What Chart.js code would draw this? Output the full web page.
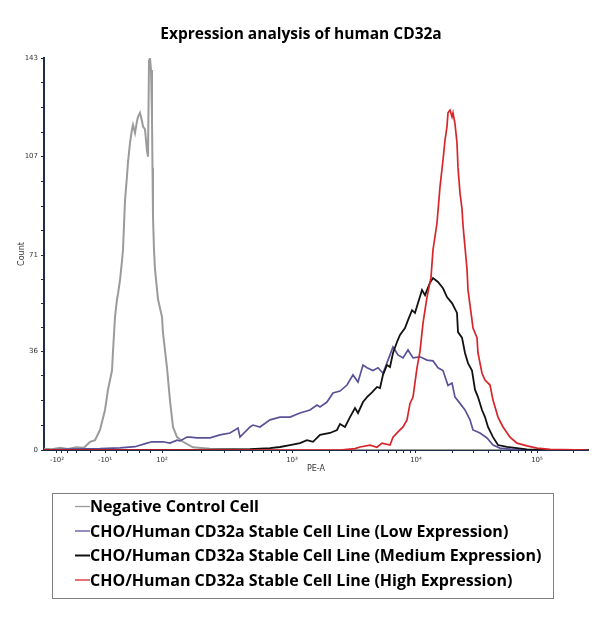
<!DOCTYPE html>
<html><head><meta charset="utf-8">
<script src="https://cdn.jsdelivr.net/npm/chart.js@4.4.0/dist/chart.umd.min.js"></script>
<style>html,body{margin:0;padding:0;background:#fff;}canvas{display:block;}</style>
</head><body>
<canvas id="c" width="600" height="622"></canvas>
<script>
const chartTitle = 'Expression analysis of human CD32a';
const xAxisTitle = 'PE-A';
const yAxisTitle = 'Count';
const seriesNames = [
  'Negative Control Cell',
  'CHO/Human CD32a Stable Cell Line (Low Expression)',
  'CHO/Human CD32a Stable Cell Line (Medium Expression)',
  'CHO/Human CD32a Stable Cell Line (High Expression)'
];
// x = position on the biexponential PE-A axis (decade units), y = count
const negX = [1.056,1.12,1.184,1.248,1.312,1.376,1.424,1.464,1.504,1.544,1.568,1.6,1.608,1.624,1.64,1.648,1.664,1.68,1.688,1.704,1.72,1.728,1.744,1.76,1.768,1.784,1.8,1.808,1.824,1.84,1.848,1.864,1.88,1.888,1.896,1.904,1.912,1.92,1.924,1.928,1.936,1.944,1.968,2.0,2.008,2.04,2.064,2.088,2.12,2.168,2.248,2.384,2.624,2.944,3.5,5.408];
const negY = [0.5,0.3,0.8,0.4,1.0,0.8,3,3.6,7.3,14.6,22,29,36,48.5,55,57,62,69,73,91,100,105,112,117,118.6,115.6,120,121.5,123,120,118,117,109,107,142,143,138.6,121,103,85,73,66,55,48.5,42.7,30,18,8.4,4.7,3,1,0.5,0.2,0,0,0];
const lowX = [1.056,1.264,1.504,1.664,1.784,1.88,1.92,2.008,2.064,2.12,2.144,2.2,2.224,2.28,2.384,2.464,2.544,2.608,2.624,2.704,2.728,2.784,2.864,2.944,3.024,3.104,3.184,3.24,3.264,3.32,3.368,3.424,3.48,3.528,3.568,3.608,3.64,3.688,3.728,3.768,3.808,3.848,3.888,3.928,3.968,4.008,4.064,4.12,4.168,4.208,4.248,4.288,4.32,4.344,4.384,4.424,4.464,4.488,4.544,4.6,4.648,4.704,4.784,4.944,5.408];
const lowY = [0,0.3,0.5,0.8,1.2,2.5,3,3,2.5,3.6,3.3,4.7,4.7,4.4,4.4,5.5,6.2,8,4.7,8.4,9.1,8.4,11,12,12,13.5,14.6,16.4,15.7,17.5,20.8,21.5,23.7,27.4,24.8,31,30,29,30,28,32.8,37.6,34.7,33.6,36.5,33.6,34,32.8,32.5,30,29,23.5,24.4,19.3,17,14.6,11,7.3,6.2,4.4,1.8,0.7,0.3,0,0];
const medX = [1.056,2.304,2.704,2.864,2.944,3.024,3.104,3.16,3.208,3.264,3.344,3.4,3.424,3.464,3.504,3.544,3.568,3.608,3.64,3.68,3.72,3.744,3.768,3.8,3.824,3.848,3.88,3.904,3.944,3.968,4.0,4.024,4.048,4.08,4.104,4.144,4.168,4.208,4.248,4.28,4.32,4.36,4.368,4.4,4.424,4.448,4.48,4.504,4.528,4.56,4.584,4.608,4.648,4.688,4.76,4.84,4.92,5.024,5.408];
const medY = [0,0,0.3,0.7,1.1,1.8,2.5,3.6,3,5.5,6.2,7.3,9.5,8.4,12,15.3,13.5,17.5,19.3,21,23,22.6,27.4,31,30.3,35.4,39.4,42,44.5,47.4,51,50,53.6,58.4,56.5,61,62.7,61.3,59,55.8,53.6,50,43,41,35.4,31.7,29,22,19.3,14.6,12,8.4,4.7,1.8,1.1,0.7,0.2,0,0];
const highX = [1.056,3.424,3.544,3.584,3.664,3.72,3.76,3.824,3.848,3.888,3.928,3.96,3.984,4.008,4.04,4.064,4.088,4.12,4.152,4.168,4.2,4.224,4.248,4.264,4.28,4.288,4.304,4.32,4.328,4.344,4.36,4.368,4.384,4.4,4.408,4.424,4.44,4.448,4.48,4.488,4.52,4.528,4.56,4.584,4.624,4.648,4.688,4.728,4.784,4.84,4.92,5.0,5.104,5.408];
const highY = [0,0,0.5,1.1,1.8,1,2.5,1.8,4.7,6.6,8.4,11,17,19.3,30,36,46.3,55.8,63,73,82.8,96,105.8,113,118,123,124,121.5,123,119,112,103,93.7,88,82,74,66,58.4,47.4,44.5,41,35.4,28,25.5,23.7,18.2,12,8.4,4.7,2.5,1.5,0.7,0.2,0];
// axis ticks
const xTickPos = [1.16,1.544,2.0,3.04,4.032,5.0];
const xTickLabels = ['-10²','-10¹','10²','10³','10⁴','10⁵'];
const yTickVals = [0,36,71,107,143];

const colors = ['#9b9b9b','#5a5298','#111111','#d7262b'];
const widths = [2,1.7,1.8,1.7];
const pairs = [[negX,negY],[lowX,lowY],[medX,medY],[highX,highY]];

const datasets = pairs.map((p,i)=>({
  label: seriesNames[i],
  data: p[0].map((x,j)=>({x:x,y:p[1][j]})),
  borderColor: colors[i],
  backgroundColor: colors[i],
  borderWidth: widths[i],
  pointRadius: 0,
  tension: 0,
  fill: false,
  order: 4 - i
}));

function xAllTicks(){
  const out = xTickPos.slice();
  for (let d = 2; d < xTickPos.length - 1; d++) {
    const a = xTickPos[d], b = xTickPos[d+1];
    for (let k = 2; k <= 9; k++) out.push(a + Math.log10(k)*(b-a));
  }
  const a5 = xTickPos[5], w = xTickPos[5]-xTickPos[4];
  out.push(a5 + Math.log10(2)*w);
  const n2 = xTickPos[0], n1 = xTickPos[1];
  for (let k = 2; k <= 9; k += 2) out.push(n1 - Math.log10(k)*(n1-n2));
  for (let k = 1; k <= 4; k++) out.push(n1 + k*(xTickPos[2]-n1)/5);
  return out.sort((p,q)=>p-q);
}
function yAllTicks(){
  const out = [];
  for (let i = 0; i < yTickVals.length - 1; i++) {
    const a = yTickVals[i], b = yTickVals[i+1];
    for (let k = 0; k < 4; k++) out.push(a + (b-a)*k/4);
  }
  out.push(yTickVals[yTickVals.length-1]);
  return out;
}

const titleText = {
  id: 'titleText',
  afterDraw(chart){
    const ctx = chart.ctx;
    ctx.save();
    ctx.font = 'bold 15.5px "Open Sans"';
    ctx.fillStyle = '#000';
    ctx.textAlign = 'center';
    ctx.textBaseline = 'middle';
    ctx.fillText(chartTitle, 301, 35);
    ctx.restore();
  }
};

const boxLegend = {
  id: 'boxLegend',
  afterDraw(chart){
    const ctx = chart.ctx;
    const left = 52, top = 493, w = 501, h = 105;
    ctx.save();
    ctx.strokeStyle = '#808080';
    ctx.lineWidth = 1;
    ctx.strokeRect(left + 0.5, top + 0.5, w, h);
    ctx.font = 'bold 16px "Open Sans"';
    ctx.textBaseline = 'middle';
    chart.data.datasets.forEach((ds, i) => {
      const y = top + 13.5 + i*24.5;
      ctx.strokeStyle = ds.borderColor;
      ctx.lineWidth = i === 2 ? 2 : 1.3;
      ctx.beginPath(); ctx.moveTo(left + 23, y); ctx.lineTo(left + 38, y); ctx.stroke();
      ctx.fillStyle = '#000';
      ctx.fillText(ds.label, left + 38, y + 1);
    });
    ctx.restore();
  }
};

const axisColor = '#1d2d4c';
new Chart(document.getElementById('c'), {
  type: 'line',
  data: { datasets },
  options: {
    responsive: false,
    animation: false,
    layout: { padding: { left: 0, right: 12, top: 58, bottom: 146 } },
    plugins: {
      legend: { display: false },
      tooltip: { enabled: false },
      title: { display: false }
    },
    scales: {
      x: {
        type: 'linear', min: 1.056, max: 5.408,
        afterBuildTicks: s => { s.ticks = xAllTicks().map(v => ({ value: v })); },
        afterFit: s => { s.height = 26; },
        grid: { drawOnChartArea: false, drawTicks: true, tickLength: 3, tickColor: axisColor },
        border: { display: true, color: axisColor, width: 2 },
        ticks: {
          autoSkip: false, maxRotation: 0, padding: 3, color: '#333',
          font: { family: 'DejaVu Sans', size: 7 },
          callback: (v) => { const i = xTickPos.findIndex(p => Math.abs(p - v) < 1e-6); return i >= 0 ? xTickLabels[i] : ''; }
        },
        title: { display: true, text: xAxisTitle, color: '#333', font: { family: 'DejaVu Sans', size: 8 }, padding: { top: 0, bottom: 2 } }
      },
      y: {
        type: 'linear', min: 0, max: 143,
        afterBuildTicks: s => { s.ticks = yAllTicks().map(v => ({ value: v })); },
        afterFit: s => { s.width = 44; },
        grid: { drawOnChartArea: false, drawTicks: true, tickLength: 3, tickColor: axisColor },
        border: { display: true, color: axisColor, width: 2 },
        ticks: {
          autoSkip: false, padding: 3, color: '#333',
          font: { family: 'DejaVu Sans', size: 7 },
          callback: (v) => yTickVals.indexOf(v) >= 0 ? String(v) : ''
        },
        title: { display: true, text: yAxisTitle, color: '#333', font: { family: 'DejaVu Sans', size: 8 }, padding: { top: 17, bottom: 0 } }
      }
    }
  },
  plugins: [titleText, boxLegend]
});
</script>
</body></html>
